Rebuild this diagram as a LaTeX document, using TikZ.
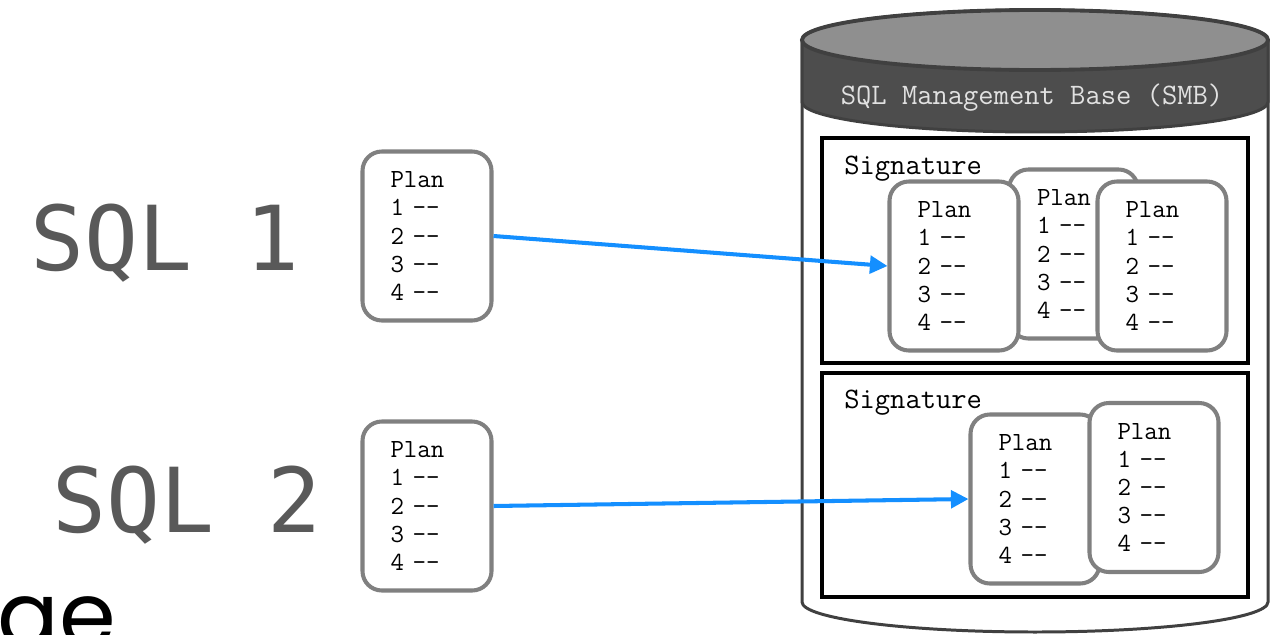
\documentclass[tikz,border=0pt]{standalone}
\usepackage{fontspec}
\setmainfont{Liberation Serif}
\newfontfamily\sqlfont{DejaVu Sans Mono}
\newfontfamily\geofont{Poppins}
\usetikzlibrary{arrows.meta, positioning}
\definecolor{plangray}{RGB}{128,128,128}
\definecolor{sqlgray}{RGB}{89,89,89}
\definecolor{cylline}{RGB}{64,64,64}
\definecolor{cylband}{RGB}{77,77,77}
\definecolor{cyltop}{RGB}{143,143,143}
\definecolor{smbtext}{RGB}{225,225,225}
\definecolor{linkblue}{RGB}{20,143,255}
\newcommand{\dd}{-\kern0pt-}
\newcommand{\planlines}{Plan\\1 \dd\\2 \dd\\3 \dd\\4 \dd}

\begin{document}
\begin{tikzpicture}[>=Stealth,
  plan/.style={draw=plangray, line width=2.3pt, rounded corners=11pt, fill=white,
               minimum width=2.58cm, minimum height=3.38cm, text width=1.46cm,
               inner xsep=0.56cm, align=left, font=\fontsize{14.9}{16}\ttfamily},
  sigbox/.style={draw=black, line width=2.3pt, minimum width=8.52cm},
  siglabel/.style={anchor=base west, inner sep=0pt, font=\fontsize{16.9}{18}\ttfamily},
  sqllabel/.style={anchor=base, inner sep=0pt, text=sqlgray, font=\fontsize{51}{60}\sqlfont},
  link/.style={linkblue, line width=2.3pt, -{Triangle[length=10pt,width=10pt]}}]
  \useasboundingbox (0,0) rectangle (25.4,-12.7);
  \clip (0,0) rectangle (25.4,-12.7);
  % Cylindre SMB
  \draw[cylline, line width=1.7pt, fill=white] (16.04,-0.8) -- (16.04,-12.04)
      arc[start angle=180, end angle=360, x radius=4.66, y radius=0.6] -- (25.36,-0.8);
  \draw[cylline, line width=1.7pt, fill=cylband] (16.04,-0.8) -- (16.04,-2.04)
      arc[start angle=180, end angle=360, x radius=4.66, y radius=0.6] -- (25.36,-0.8)
      arc[start angle=0, end angle=180, x radius=4.66, y radius=0.6] -- cycle;
  \draw[cylline, line width=2.2pt, fill=cyltop] (20.70,-0.8) ellipse[x radius=4.66, y radius=0.6];
  \node[text=smbtext, font=\fontsize{16.9}{18}\ttfamily] (smb) at (20.64,-1.96) {SQL Management Base (SMB)};
  % Signatures
  \node[sigbox, minimum height=4.5cm] (sig1) at (20.70,-5.01) {};
  \node[sigbox, minimum height=4.48cm] (sig2) at (20.70,-9.70) {};
  \node[siglabel] (sig1txt) at (16.88,-3.48) {Signature};
  \node[siglabel] (sig2txt) at (16.88,-8.16) {Signature};
  % Plans dans la premiere signature
  \node[plan] (planB) at (21.47,-5.08) {\planlines};
  \node[plan] (planA) at (19.08,-5.32) {\planlines};
  \node[plan] (planC) at (23.24,-5.32) {\planlines};
  % Plans dans la seconde signature
  \node[plan] (planD) at (20.70,-9.98) {\planlines};
  \node[plan] (planE) at (23.08,-9.75) {\planlines};
  % Requetes
  \node[sqllabel] (sql1) at (3.30,-5.40) {SQL 1};
  \node[sqllabel] (sql2) at (3.74,-10.64) {SQL 2};
  \node[plan] (plan1) at (8.54,-4.72) {\planlines};
  \node[plan] (plan2) at (8.54,-10.12) {\planlines};
  \node[anchor=base west, inner sep=0pt, font=\fontsize{52}{60}\geofont] (ge) at (-0.05,-12.94) {ge};
  % Fleches
  \draw[link] (plan1.east) -- (planA.west);
  \draw[link] (plan2.east) -- (planD.west);
\end{tikzpicture}
\end{document}
